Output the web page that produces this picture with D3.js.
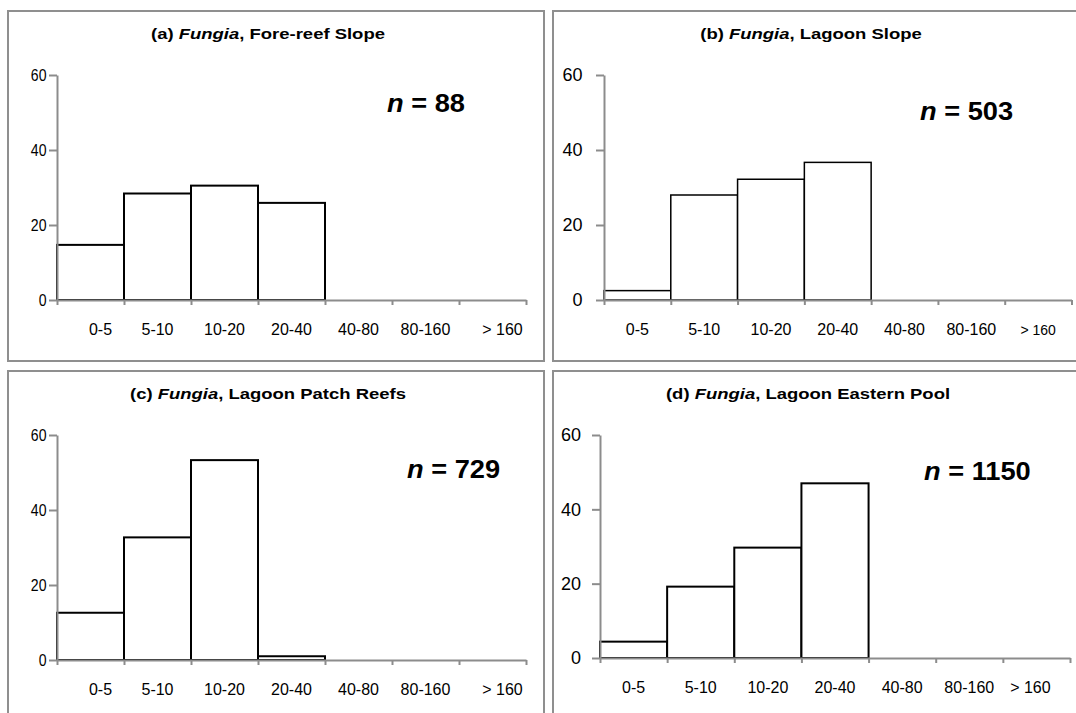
<!DOCTYPE html>
<html>
<head>
<meta charset="utf-8">
<script src="https://cdn.jsdelivr.net/npm/d3@7"></script>
<style>
  html, body { margin: 0; padding: 0; background: #fff; }
  svg { display: block; font-family: "Liberation Sans", Arial, sans-serif; }
</style>
</head>
<body>
<svg id="chart" width="1076" height="713"></svg>
<script>
// size classes (mm) and percentage frequency per site
const sizeClasses = ["0-5", "5-10", "10-20", "20-40", "40-80", "80-160", "> 160"];
const yTicks = [0, 20, 40, 60];

const panelLetters = ["(a)", "(b)", "(c)", "(d)"];
const siteNames = ["Fore-reef Slope", "Lagoon Slope", "Lagoon Patch Reefs", "Lagoon Eastern Pool"];
const sampleSizes = [88, 503, 729, 1150];

const foreReefSlope = [14.7, 28.4, 30.5, 25.9, 0, 0, 0];
const lagoonSlope = [2.5, 28.0, 32.2, 36.7, 0, 0, 0];
const lagoonPatchReefs = [12.6, 32.7, 53.3, 1.0, 0, 0, 0];
const lagoonEasternPool = [4.4, 19.2, 29.7, 47.0, 0, 0, 0];

const siteValues = [foreReefSlope, lagoonSlope, lagoonPatchReefs, lagoonEasternPool];

// panel geometry
const layout = [
  { box: [8, 11, 536, 350], plot: [57, 526, 75, 300], titleX: 268, titleY: 39,
    nX: 387, nY: 112, xLabelY: 335, yGap: 10.5, yFont: 16, yStretch: 0.88, barStroke: 2,
    edgeNudge: [10, 10] },
  { box: [553, 11, 540, 350], plot: [604, 1071.5, 75, 300], titleX: 811, titleY: 39,
    nX: 920, nY: 120, xLabelY: 335, yGap: 21.5, yFont: 18, yStretch: 1, barStroke: 1.5,
    edgeNudge: [0, 0] },
  { box: [8, 371, 536, 360], plot: [57, 526, 435, 660], titleX: 268, titleY: 399,
    nX: 407, nY: 478, xLabelY: 695, yGap: 10.5, yFont: 16, yStretch: 0.88, barStroke: 2,
    edgeNudge: [10, 10] },
  { box: [553, 371, 540, 360], plot: [600, 1070, 435, 658], titleX: 808, titleY: 399,
    nX: 924, nY: 480, xLabelY: 693, yGap: 19, yFont: 18, yStretch: 1, barStroke: 2,
    edgeNudge: [0, -6] },
];

const axisGray = "#8c8c8c";
const svg = d3.select("#chart");

function stretchedText(parent, x, y, sx) {
  return parent.append("g")
    .attr("transform", `translate(${x},${y}) scale(${sx},1)`)
    .append("text");
}

function drawPanel(i) {
  const L = layout[i];
  const values = siteValues[i];
  const [left, right, top, bottom] = L.plot;
  const g = svg.append("g");

  g.append("rect")
    .attr("x", L.box[0]).attr("y", L.box[1])
    .attr("width", L.box[2]).attr("height", L.box[3])
    .attr("fill", "none")
    .attr("stroke", "#8f8f8f")
    .attr("stroke-width", 2);

  const x = d3.scaleBand().domain(sizeClasses).range([left, right]).padding(0);
  const y = d3.scaleLinear().domain([0, 60]).range([bottom, top]);
  const xi = d3.scaleLinear().domain([0, sizeClasses.length]).range([left, right]);

  // bars
  g.append("g")
    .selectAll("rect")
    .data(sizeClasses.map((c, k) => ({ c, v: values[k] })).filter(d => d.v > 0))
    .join("rect")
    .attr("x", d => x(d.c))
    .attr("y", d => y(d.v))
    .attr("width", x.bandwidth())
    .attr("height", d => y(0) - y(d.v))
    .attr("fill", "#fff")
    .attr("stroke", "#000")
    .attr("stroke-width", L.barStroke);

  // x axis (ticks at class boundaries)
  const xAxis = g.append("g")
    .attr("transform", `translate(0,${bottom})`)
    .call(d3.axisBottom(xi).tickValues(d3.range(sizeClasses.length + 1))
      .tickSize(5).tickSizeOuter(0).tickFormat(""));
  xAxis.selectAll("path, line").attr("stroke", axisGray).attr("stroke-width", 2);

  // y axis
  const yAxis = g.append("g")
    .attr("transform", `translate(${left},0)`)
    .call(d3.axisLeft(y).tickValues(yTicks).tickSize(8).tickSizeOuter(0).tickFormat(""));
  yAxis.selectAll("path, line").attr("stroke", axisGray).attr("stroke-width", 2);

  // x labels
  const last = sizeClasses.length - 1;
  g.append("g")
    .selectAll("text")
    .data(sizeClasses)
    .join("text")
    .attr("x", (d, k) => x(d) + x.bandwidth() / 2 +
      (k === 0 ? L.edgeNudge[0] : k === last ? L.edgeNudge[1] : 0))
    .attr("y", L.xLabelY)
    .attr("text-anchor", "middle")
    .attr("font-size", (d, k) => (i === 1 && k === last) ? 14 : 16)
    .attr("fill", "#000")
    .text(d => d);

  // y labels
  yTicks.forEach(t => {
    stretchedText(g, left - L.yGap, y(t), L.yStretch)
      .attr("text-anchor", "end")
      .attr("dy", "0.36em")
      .attr("font-size", L.yFont)
      .text(t);
  });

  // title
  const title = stretchedText(g, L.titleX, L.titleY, 1.32)
    .attr("text-anchor", "middle")
    .attr("font-size", 14)
    .attr("font-weight", "bold");
  title.append("tspan").text(panelLetters[i] + " ");
  title.append("tspan").attr("font-style", "italic").text("Fungia");
  title.append("tspan").text(", " + siteNames[i]);

  // sample size
  const n = stretchedText(g, L.nX, L.nY, 1.09)
    .attr("text-anchor", "start")
    .attr("font-size", 25)
    .attr("font-weight", "bold");
  n.append("tspan").attr("font-style", "italic").text("n");
  n.append("tspan").text(" = " + sampleSizes[i]);
}

siteValues.forEach((_, i) => drawPanel(i));
</script>
</body>
</html>
